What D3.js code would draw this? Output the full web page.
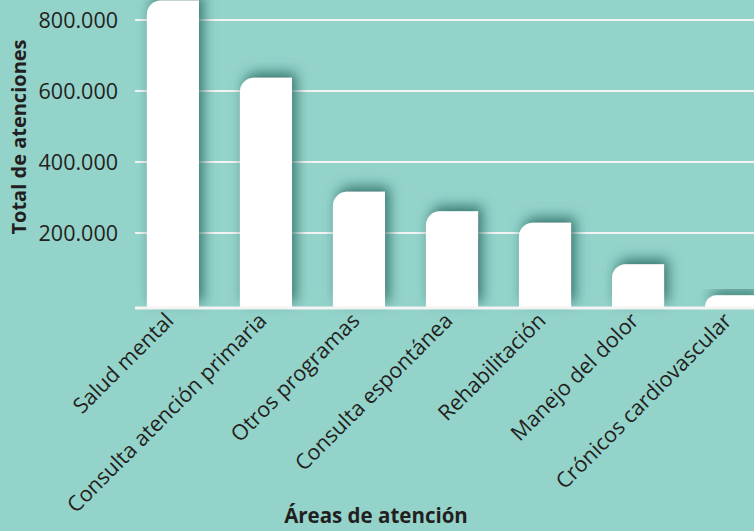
<!DOCTYPE html>
<html>
<head>
<meta charset="utf-8">
<script src="https://cdn.jsdelivr.net/npm/d3@7"></script>
<style>
  html, body { margin: 0; padding: 0; background: #94d3ca; }
  svg { display: block; font-family: "Open Sans", "Noto Sans", sans-serif; }
</style>
</head>
<body>
<div class="canvas"></div>
<script>
// chart data
const areas = ['Salud mental', 'Consulta atención primaria', 'Otros programas',
  'Consulta espontánea', 'Rehabilitación', 'Manejo del dolor', 'Crónicos cardiovascular']
const atenciones = [855000, 637000, 316000, 261000, 229000, 112000, 25000]
const yTicks = [200000, 400000, 600000, 800000]
const yTickLabels = ['200.000', '400.000', '600.000', '800.000']

const dims = {width: 754, height: 531}
const baseY = 307

const svg = d3.select('.canvas').append('svg')
  .attr('width', dims.width)
  .attr('height', dims.height)

svg.append('rect').attr('width', dims.width).attr('height', dims.height).attr('fill', '#94d3ca')

// shadow filter for bars
const defs = svg.append('defs')
const f = defs.append('filter').attr('id', 'shadow')
  .attr('x', '-50%').attr('y', '-50%').attr('width', '200%').attr('height', '200%')
f.append('feGaussianBlur').attr('in', 'SourceAlpha').attr('stdDeviation', 6.5).attr('result', 'blur')
f.append('feOffset').attr('in', 'blur').attr('dx', 4).attr('dy', -5).attr('result', 'off')
f.append('feFlood').attr('flood-color', '#276a61').attr('flood-opacity', 0.9)
f.append('feComposite').attr('in2', 'off').attr('operator', 'in').attr('result', 'sh')
const merge = f.append('feMerge')
merge.append('feMergeNode').attr('in', 'sh')
merge.append('feMergeNode').attr('in', 'SourceGraphic')

const x = d3.scaleBand()
  .domain(areas)
  .range([119, 785])
  .paddingInner(0.44)
  .paddingOuter(0.3)

const y = d3.scaleLinear()
  .domain([0, 800000])
  .range([304, 20])

// gridlines
svg.append('g')
  .selectAll('line')
  .data(yTicks)
  .enter().append('line')
  .attr('x1', 135).attr('x2', dims.width)
  .attr('y1', d => y(d)).attr('y2', d => y(d))
  .attr('stroke', '#f4f4f4').attr('stroke-width', 2)

// y tick labels
svg.append('g')
  .selectAll('text')
  .data(yTicks)
  .enter().append('text')
  .attr('x', 118)
  .attr('y', d => y(d))
  .attr('dy', '0.36em')
  .attr('text-anchor', 'end')
  .attr('font-size', 21.5)
  .attr('fill', '#231f20')
  .text((d, i) => yTickLabels[i])

// bars with rounded top-left corner
const r = 14
const barPath = d => {
  const x0 = x(d.area), w = x.bandwidth(), top = y(d.value)
  const rr = Math.min(r, baseY - top)
  return `M${x0},${baseY} V${top + rr} A${rr},${rr} 0 0 1 ${x0 + rr},${top} H${x0 + w} V${baseY} Z`
}

svg.append('g')
  .selectAll('path')
  .data(areas.map((a, i) => ({area: a, value: atenciones[i]})))
  .enter().append('path')
  .attr('d', barPath)
  .attr('fill', '#ffffff')
  .attr('filter', 'url(#shadow)')

// baseline
svg.append('line')
  .attr('x1', 135).attr('x2', dims.width)
  .attr('y1', baseY + 1).attr('y2', baseY + 1)
  .attr('stroke', '#f4f4f4').attr('stroke-width', 3)

// x labels, rotated
svg.append('g')
  .selectAll('text')
  .data(areas)
  .enter().append('text')
  .attr('transform', d => `translate(${x(d) + x.bandwidth() / 2 + 2},${baseY + 15}) rotate(-45)`)
  .attr('text-anchor', 'end')
  .attr('font-size', 21.5)
  .attr('fill', '#231f20')
  .text(d => d)

// axis titles
svg.append('text')
  .attr('transform', 'translate(26,137) rotate(-90)')
  .attr('text-anchor', 'middle')
  .attr('font-size', 20)
  .attr('font-weight', 'bold')
  .attr('fill', '#231f20')
  .text('Total de atenciones')

svg.append('text')
  .attr('x', 376)
  .attr('y', 523)
  .attr('text-anchor', 'middle')
  .attr('font-size', 20.5)
  .attr('font-weight', 'bold')
  .attr('fill', '#231f20')
  .text('Áreas de atención')
</script>
</body>
</html>
